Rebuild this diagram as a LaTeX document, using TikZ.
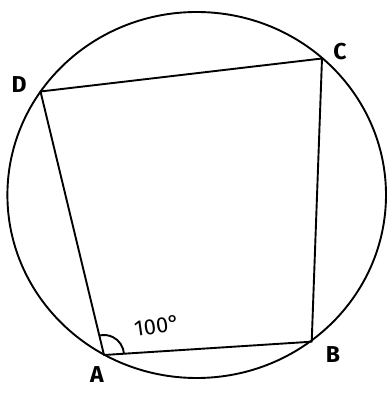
\documentclass[tikz,border=0pt]{standalone}
\usepackage{fontspec}
\setmainfont{Fira Sans}
\usetikzlibrary{angles}
\begin{document}
\begin{tikzpicture}[x=1pt,y=1pt,
  edge/.style={line width=1.9pt, line join=round, line cap=round},
  lbl/.style={font=\fontsize{23}{23}\selectfont\bfseries, inner sep=0pt}]
\useasboundingbox (0,0) rectangle (389,399);
\coordinate (A) at (104,44);
\coordinate (B) at (311.7,57.3);
\coordinate (C) at (322,340.5);
\coordinate (D) at (40.5,307.5);
\draw[edge] (196.7,204) ellipse [x radius=189.3, y radius=183];
\draw[edge] (A) -- (B) -- (C) -- (D) -- cycle;
\pic[draw, line width=1.9pt, angle radius=20pt] {angle=B--A--D};
\node[lbl] (la) at (97,24) {A};
\node[lbl] (lb) at (333,44) {B};
\node[lbl] (lc) at (340,347) {C};
\node[lbl] (ld) at (19,314) {D};
\node[font=\fontsize{22}{22}\selectfont, inner sep=0pt, rotate=8] (ang) at (157,73) {100°};
\end{tikzpicture}
\end{document}
